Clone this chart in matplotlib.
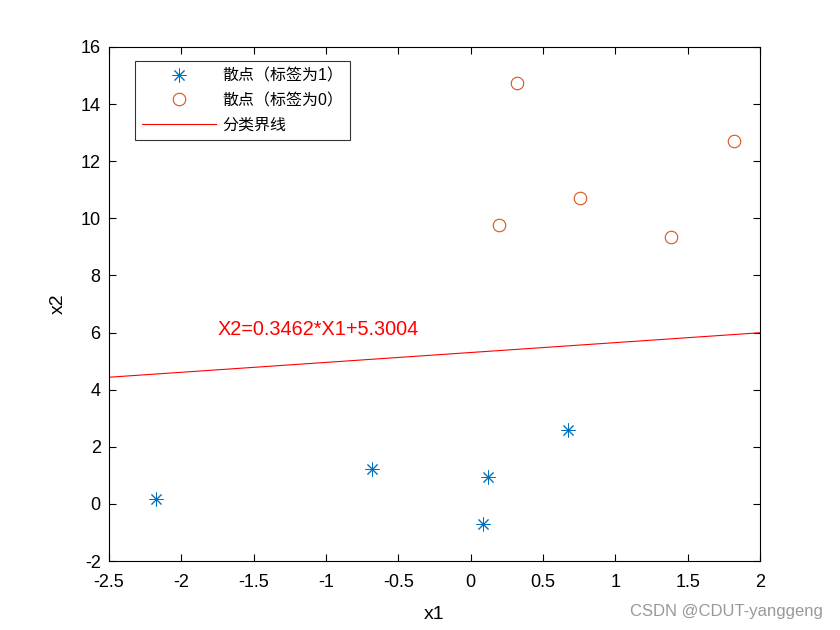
import matplotlib
matplotlib.use('Agg')
import matplotlib.pyplot as plt
import numpy as np

plt.rcParams['font.family'] = ['Liberation Sans', 'Noto Sans CJK SC', 'DejaVu Sans']
plt.rcParams['axes.unicode_minus'] = False

# points with label 1
x1_pos = [-2.175, -0.682, 0.12, 0.085, 0.672]
x2_pos = [0.17, 1.22, 0.94, -0.70, 2.59]
# points with label 0
x1_neg = [0.318, 1.822, 0.757, 0.196, 1.385]
x2_neg = [14.75, 12.71, 10.70, 9.75, 9.35]
# boundary line
slope = 0.3462
intercept = 5.3004
xlim = [-2.5, 2]
ylim = [-2, 16]

fig = plt.figure(figsize=(8.4, 6.3), dpi=100)
ax = fig.add_axes([0.1298, 0.1095, 0.775, 0.816])

# matlab style '*' marker: 8 arms
ax.plot(x1_pos, x2_pos, linestyle='none', marker=(8, 2, 0), color='#0072BD',
        markersize=10, markeredgewidth=0.7, label='散点（标签为1）')
ax.plot(x1_neg, x2_neg, linestyle='none', marker='o', markerfacecolor='none',
        markeredgecolor='#D95319', markersize=9, markeredgewidth=0.8,
        label='散点（标签为0）')
xs = np.array(xlim)
ax.plot(xs, slope * xs + intercept, color='red', linewidth=0.8, label='分类界线')
ax.text(-1.75, 6.1, 'X2=0.3462*X1+5.3004', color='red', fontsize=14.3, va='center')

ax.set_xlim(xlim)
ax.set_ylim(ylim)
ax.set_xticks(np.arange(-2.5, 2.01, 0.5))
ax.set_xticklabels(['-2.5', '-2', '-1.5', '-1', '-0.5', '0', '0.5', '1', '1.5', '2'])
ax.set_yticks(np.arange(-2, 16.1, 2))
ax.tick_params(direction='in', top=True, right=True, labelsize=13, length=5)
ax.tick_params(axis='x', pad=9)
ax.tick_params(axis='y', pad=6)
ax.set_xlabel('x1', fontsize=14, labelpad=11)
ax.set_ylabel('x2', fontsize=14, labelpad=10)

leg = ax.legend(loc='upper left', bbox_to_anchor=(0.04, 0.973), fontsize=11.5,
                frameon=True, fancybox=False, edgecolor='black',
                borderpad=0.45, labelspacing=0.6, handlelength=4.6,
                handletextpad=0.4, borderaxespad=0)
leg.get_frame().set_linewidth(0.8)

fig.text(0.98, 0.022, 'CSDN @CDUT-yanggeng', color='#999999', fontsize=12, ha='right')

fig.savefig('out.png', dpi=100)
